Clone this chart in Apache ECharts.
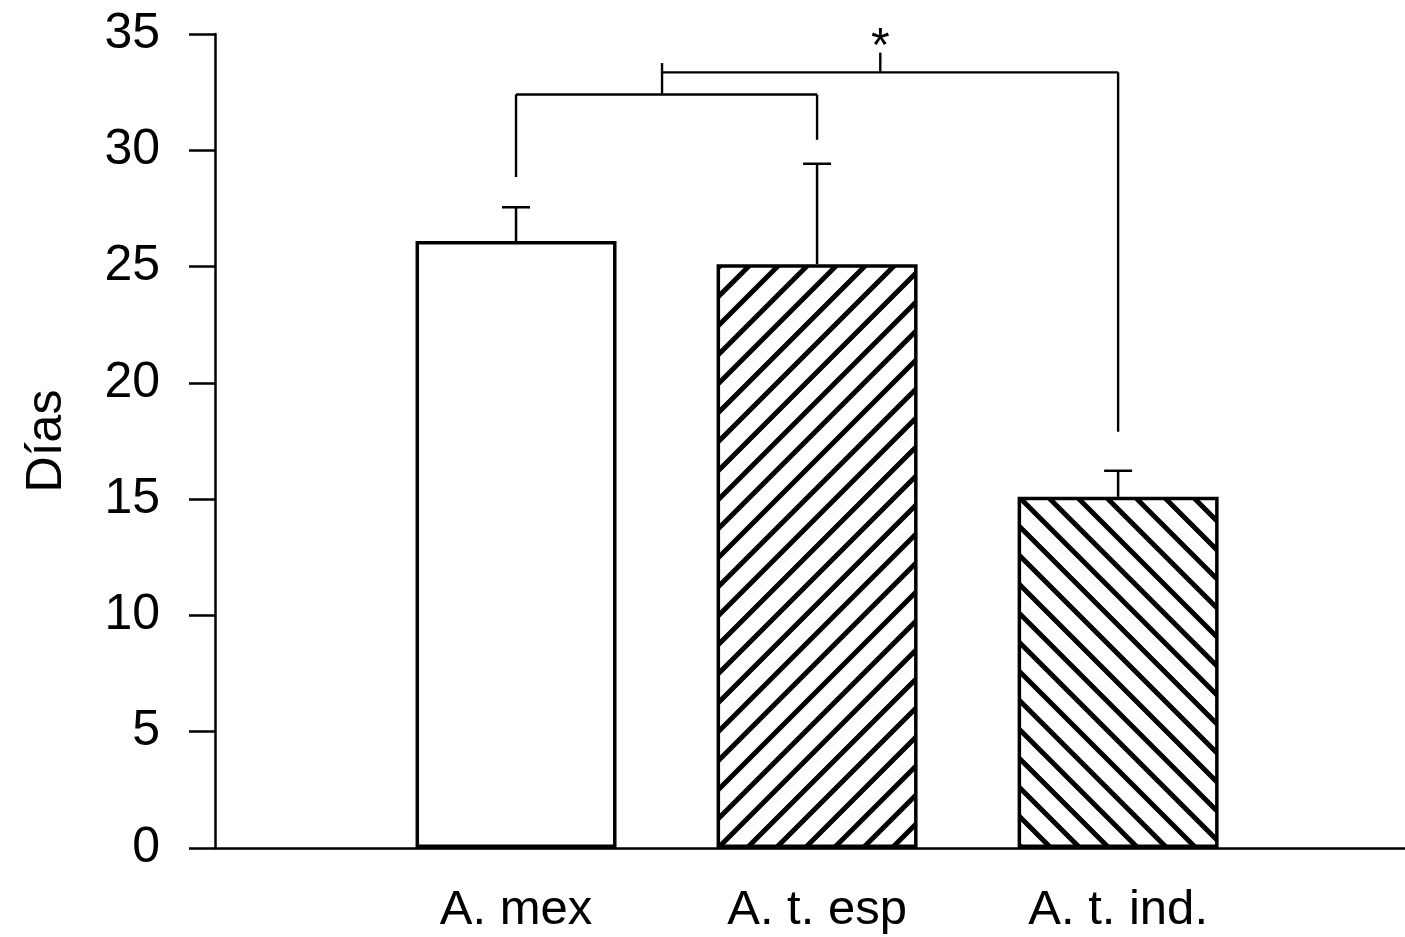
<!DOCTYPE html>
<html><head><meta charset="utf-8">
<script src="https://cdn.jsdelivr.net/npm/echarts@6/dist/echarts.min.js"></script>
<style>html,body{margin:0;padding:0;background:#fff}#c{width:1405px;height:937px}</style>
</head><body><div id="c"></div>
<script>
// ---- data ----
const categories = ['A. mex', 'A. t. esp', 'A. t. ind.'];
const positions = [1, 2, 3];
const means = [26.1, 25.1, 15.1];
const errTops = [27.55, 29.42, 16.22];
const yTicks = [0, 5, 10, 15, 20, 25, 30, 35];
// bracket segments [x1, y1, x2, y2] in data units
const bracketSegments = [
  [1, 28.85, 1, 32.4],
  [1, 32.4, 2, 32.4],
  [2, 32.4, 2, 30.45],
  [1.485, 32.4, 1.485, 33.75],
  [1.485, 33.35, 3, 33.35],
  [3, 33.35, 3, 17.9],
  [2.21, 33.35, 2.21, 34.2]
];
const starMark = [[2.21, 34.4, '*']];

// ---- hatch patterns ----
function hatch(dir) {
  const s = 29;
  const c = document.createElement('canvas');
  c.width = s; c.height = s;
  const g = c.getContext('2d');
  g.fillStyle = '#fff'; g.fillRect(0, 0, s, s);
  g.strokeStyle = '#000'; g.lineWidth = 5; g.lineCap = 'square';
  g.beginPath();
  for (let k = -1; k <= 1; k++) {
    if (dir === '/') { g.moveTo(k * s, s); g.lineTo(k * s + s, 0); }
    else { g.moveTo(k * s, 0); g.lineTo(k * s + s, s); }
  }
  g.stroke();
  return { image: c, repeat: 'repeat' };
}
const fills = ['#ffffff', hatch('/'), hatch('\\')];

const font = '"Liberation Sans", Arial, sans-serif';
const chart = echarts.init(document.getElementById('c'), null, { renderer: 'canvas' });
chart.setOption({
  animation: false,
  backgroundColor: '#fff',
  grid: { left: 215, right: 0, top: 34, bottom: 89, containLabel: false },
  xAxis: {
    type: 'value', min: 0, max: 3.953, interval: 1,
    axisLine: { show: true, onZero: false, lineStyle: { color: '#000', width: 2.5 } },
    axisTick: { show: false },
    splitLine: { show: false },
    axisLabel: {
      showMaxLabel: false, showMinLabel: false,
      color: '#000', fontFamily: font, fontSize: 49, margin: 38,
      formatter: v => { const i = positions.indexOf(v); return i >= 0 ? categories[i] : ''; }
    }
  },
  yAxis: {
    type: 'value', min: 0, max: 35, interval: 5,
    name: 'Días', nameLocation: 'middle', nameGap: 143,
    nameTextStyle: { color: '#000', fontFamily: font, fontSize: 50 },
    axisLine: { show: true, lineStyle: { color: '#000', width: 2.5 } },
    axisTick: { show: true, inside: false, length: 26, lineStyle: { color: '#000', width: 2.5 } },
    splitLine: { show: false },
    axisLabel: { color: '#000', fontFamily: font, fontSize: 50, margin: 55,
      formatter: v => yTicks.includes(v) ? String(v) : '' }
  },
  series: [
    {
      type: 'bar', barWidth: 201,
      data: positions.map((x, i) => ({
        value: [x, means[i]],
        itemStyle: { color: fills[i], borderColor: '#000', borderWidth: 3.5 }
      })),
      z: 2
    },
    {
      type: 'custom', z: 3,
      data: positions.map((x, i) => [x, means[i], errTops[i]]),
      renderItem: (params, api) => {
        const b = api.coord([api.value(0), api.value(1)]);
        const t = api.coord([api.value(0), api.value(2)]);
        const st = { stroke: '#000', lineWidth: 2.5 };
        return { type: 'group', children: [
          { type: 'line', shape: { x1: b[0], y1: b[1], x2: t[0], y2: t[1] }, style: st },
          { type: 'line', shape: { x1: t[0] - 14, y1: t[1], x2: t[0] + 14, y2: t[1] }, style: st }
        ]};
      }
    },
    {
      type: 'custom', z: 3,
      data: bracketSegments,
      renderItem: (params, api) => {
        const a = api.coord([api.value(0), api.value(1)]);
        const b = api.coord([api.value(2), api.value(3)]);
        return { type: 'line', shape: { x1: a[0], y1: a[1], x2: b[0], y2: b[1] },
          style: { stroke: '#000', lineWidth: 2.4 } };
      }
    },
    {
      type: 'custom', z: 3,
      data: starMark,
      renderItem: (params, api) => {
        const p = api.coord([api.value(0), api.value(1)]);
        return { type: 'text', x: p[0], y: p[1],
          style: { text: starMark[params.dataIndex][2], fill: '#000', font: '48px ' + font,
            align: 'center', verticalAlign: 'middle' } };
      }
    }
  ]
});
</script></body></html>
